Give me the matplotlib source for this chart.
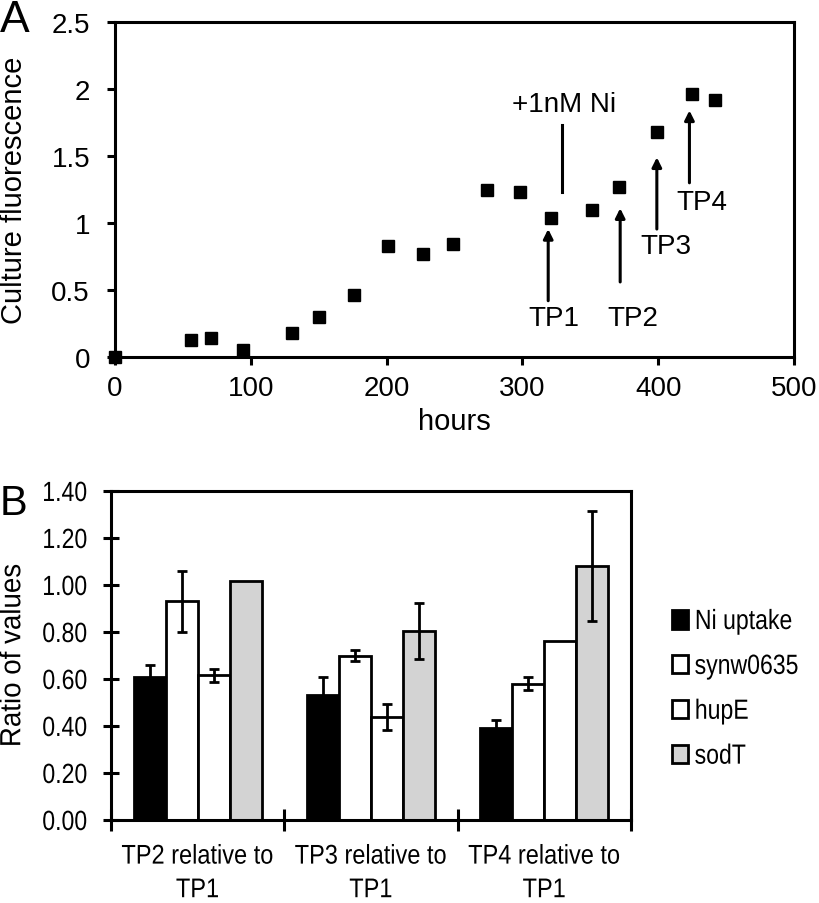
import matplotlib
matplotlib.use("Agg")
import matplotlib.pyplot as plt
from matplotlib import font_manager
from matplotlib.patches import Patch
from matplotlib.patheffects import AbstractPathEffect
from matplotlib.transforms import Affine2D
import numpy as np

# ---------------- data: panel A ----------------
hours = [0, 56, 71, 94, 130, 150, 176, 201, 227, 249, 274, 298, 321, 351, 371, 399, 425, 442]
fluor = [0.0, 0.13, 0.14, 0.05, 0.18, 0.30, 0.46, 0.83, 0.77, 0.84, 1.25, 1.23, 1.04, 1.10, 1.27, 1.68, 1.96, 1.92]
x_ticks_a = [0, 100, 200, 300, 400, 500]
y_ticks_a = [0, 0.5, 1, 1.5, 2, 2.5]
y_ticklabels_a = ["0", "0.5", "1", "1.5", "2", "2.5"]

tp_labels = ["TP1", "TP2", "TP3", "TP4"]
tp_arrow_x = [319, 372, 399, 423]
tp_arrow_tail = [0.42, 0.56, 0.955, 1.30]
tp_arrow_head = [0.955, 1.11, 1.49, 1.84]
tp_text_x = [323, 381, 406, 432]
tp_text_y = [0.29, 0.29, 0.83, 1.16]
ni_label = "+1nM Ni"
ni_line_x = 329
ni_line_y = [1.23, 1.73]
ni_text_xy = (331, 1.89)

# ---------------- data: panel B ----------------
groups = ["TP2 relative to\nTP1", "TP3 relative to\nTP1", "TP4 relative to\nTP1"]
series = ["Ni uptake", "synw0635", "hupE", "sodT"]
ni_uptake = [0.61, 0.53, 0.39]
ni_uptake_err = [0.05, 0.08, 0.035]
synw0635 = [0.93, 0.70, 0.58]
synw0635_err = [0.13, 0.025, 0.027]
hupE = [0.615, 0.44, 0.76]
hupE_err = [0.028, 0.055, 0.0]
sodT = [1.015, 0.805, 1.08]
sodT_err = [0.0, 0.12, 0.235]
y_ticks_b = [0.0, 0.2, 0.4, 0.6, 0.8, 1.0, 1.2, 1.4]

# ---------------- fonts ----------------
avail = {f.name for f in font_manager.fontManager.ttflist}
main_font = "Liberation Sans" if "Liberation Sans" in avail else "DejaVu Sans"
plt.rcParams["font.family"] = [main_font, "DejaVu Sans"]


class HSquash(AbstractPathEffect):
    """Draw text horizontally condensed (emulates a narrow typeface)."""

    def __init__(self, sx, anchor="center"):
        super().__init__()
        self.sx = sx
        self.anchor = anchor

    def draw_path(self, renderer, gc, tpath, affine, rgbFace=None):
        ext = tpath.get_extents()
        if self.anchor == "right":
            cx = ext.x1
        elif self.anchor == "left":
            cx = ext.x0
        else:
            cx = 0.5 * (ext.x0 + ext.x1)
        pre = Affine2D().translate(-cx, 0).scale(self.sx, 1).translate(cx, 0)
        renderer.draw_path(gc, tpath, pre + affine, rgbFace)


fig = plt.figure(figsize=(8.2, 9.04), dpi=100)
W, H = 820, 904


def ax_rect(l, t, r, b):
    return [l / W, 1 - b / H, (r - l) / W, (b - t) / H]


# ================= Panel A =================
axA = fig.add_axes(ax_rect(115, 23, 794, 358))
axA.plot(hours, fluor, linestyle="none", marker="s", markersize=8.5,
         color="black", clip_on=False, zorder=5)
axA.set_xlim(0, 500)
axA.set_ylim(0, 2.5)
axA.set_xticks(x_ticks_a)
axA.set_yticks(y_ticks_a)
axA.set_yticklabels(y_ticklabels_a)
for s in axA.spines.values():
    s.set_linewidth(2.2)
axA.tick_params(axis="both", direction="out", length=6, width=2.2, labelsize=20)
axA.tick_params(axis="y", pad=12)
axA.tick_params(axis="x", pad=7)
axA.set_xlabel("hours", fontsize=21, labelpad=4)
axA.set_ylabel("Culture fluorescence", fontsize=21)
axA.yaxis.set_label_coords(-0.128, 0.5)

for lab, ax_x, yt, yh, tx, ty in zip(tp_labels, tp_arrow_x, tp_arrow_tail,
                                      tp_arrow_head, tp_text_x, tp_text_y):
    axA.annotate("", xy=(ax_x, yh), xytext=(ax_x, yt),
                 arrowprops=dict(arrowstyle="-|>", lw=2.2, color="black",
                                 mutation_scale=14, shrinkA=0, shrinkB=0))
    axA.text(tx, ty, lab, ha="center", va="center", fontsize=20)
axA.plot([ni_line_x, ni_line_x], ni_line_y, color="black", lw=2.2)
axA.text(ni_text_xy[0], ni_text_xy[1], ni_label, ha="center", va="center", fontsize=20)

fig.text(0.0, 1.0, "A", fontsize=32, ha="left", va="top")

# ================= Panel B =================
axB = fig.add_axes(ax_rect(111, 492, 631, 821))
x = np.arange(len(groups))
bw = 0.185
offsets = [-1.5 * bw, -0.5 * bw, 0.5 * bw, 1.5 * bw]
vals = [ni_uptake, synw0635, hupE, sodT]
errs = [ni_uptake_err, synw0635_err, hupE_err, sodT_err]
faces = ["black", "white", "white", "#d3d3d3"]
for v, e, off, fc in zip(vals, errs, offsets, faces):
    axB.bar(x + off, v, width=bw, color=fc, edgecolor="black", linewidth=2.0, zorder=2)
    ee = np.array(e, dtype=float)
    mask = ee > 0
    axB.errorbar((x + off)[mask], np.array(v)[mask], yerr=ee[mask], fmt="none",
                 ecolor="black", elinewidth=2.0, capsize=3.5, capthick=2.0, zorder=3)

axB.set_xlim(-0.5, 2.5)
axB.set_ylim(0, 1.4)
axB.set_yticks(y_ticks_b)
axB.set_yticklabels([f"{t:.2f}" for t in y_ticks_b], fontsize=20)
axB.set_xticks([-0.5, 0.5, 1.5, 2.5])
axB.set_xticklabels([])
axB.set_xticks(x, minor=True)
axB.set_xticklabels(groups, minor=True, fontsize=19.5, linespacing=1.38)
for s in axB.spines.values():
    s.set_linewidth(2.2)
axB.tick_params(axis="y", direction="inout", length=12, width=2.2, pad=11)
axB.tick_params(axis="x", which="major", direction="inout", length=16, width=2.2)
axB.tick_params(axis="x", which="minor", length=0, pad=17)
for t in axB.get_yticklabels():
    t.set_path_effects([HSquash(0.83, "right")])
for t in axB.get_xticklabels(minor=True):
    t.set_path_effects([HSquash(0.87, "center")])
axB.set_ylabel("Ratio of values", fontsize=21)
axB.yaxis.label.set_path_effects([HSquash(0.95, "center")])
axB.yaxis.set_label_coords(-0.163, 0.5)

handles = [Patch(facecolor=fc, edgecolor="black", linewidth=2.0) for fc in faces]
leg = fig.legend(handles, series, loc="upper left",
                 bbox_to_anchor=(672 / W, 1 - 610 / H), bbox_transform=fig.transFigure,
                 frameon=False, prop={"size": 20},
                 handlelength=0.58, handleheight=0.65, handletextpad=0.23,
                 labelspacing=0.68, borderpad=0, borderaxespad=0)
for t in leg.get_texts():
    t.set_path_effects([HSquash(0.83, "left")])

fig.text(0.0, 1 - 484 / H, "B", fontsize=30, ha="left", va="top")

fig.savefig("out.png", dpi=100)
